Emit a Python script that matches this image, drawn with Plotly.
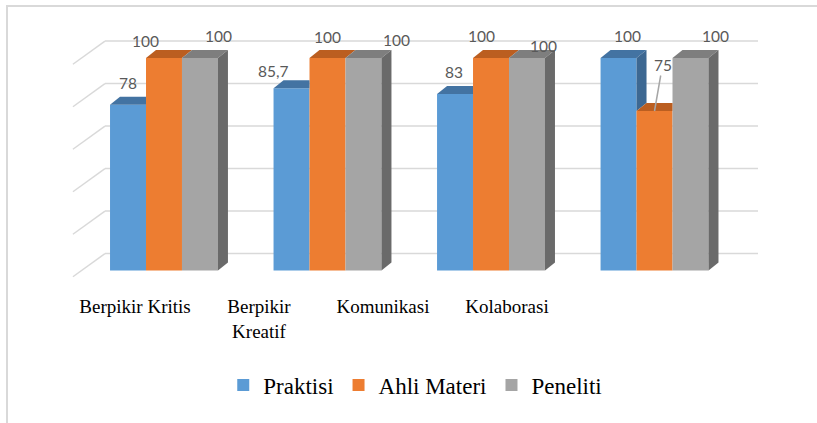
import plotly.graph_objects as go

# ---------------- data ----------------
categories = ["Berpikir Kritis", "Berpikir<br>Kreatif", "Komunikasi", "Kolaborasi"]
series_names = ["Praktisi", "Ahli Materi", "Peneliti"]
praktisi = [78, 85.7, 83, 100]
ahli_materi = [100, 100, 100, 75]
peneliti = [100, 100, 100, 100]
grid_values = [0, 20, 40, 60, 80, 100]

# ---------------- style ----------------
front_colors = ["#5B9BD5", "#ED7D31", "#A5A5A5"]
top_colors = ["#4373A2", "#BB5E20", "#7E7E7E"]
side_colors = ["#3D6892", "#A9541C", "#6A6A6A"]
grid_color = "#D9D9D9"
label_color = "#595959"
SERIF = "Liberation Serif"

L, R, T, B = 60, 32, 26, 142
W, H = 817, 423
X_RANGE = [-0.636, 3.798]
Y_RANGE = [-5, 115]
PXX = (W - L - R) / (X_RANGE[1] - X_RANGE[0])
PXY = (H - T - B) / (Y_RANGE[1] - Y_RANGE[0])

BAR_W = 0.22
DX = 10 / PXX          # depth offset of bars (x units)
DY = 8 / PXY           # depth offset of bars (value units)
WALL_BACK_X, WALL_FRONT_X, GRID_END_X = -0.361, -0.557, 3.633
WALL_BACK_DY, WALL_FRONT_DY = 7.9, -3.0

# label offsets (px): (xshift, yshift)
label_offsets = [
    [(-0.5, 22), (-18, 17), (-1, 21.6), (9, 21.6)],
    [(-18.5, 16.6), (0, 21), (-10, 21.6), (8, 46)],
    [(18.5, 21.6), (33, 18.3), (17, 12.3), (25.5, 21.6)],
]

values = [praktisi, ahli_materi, peneliti]
cat_x = list(range(len(categories)))


def fmt(v):
    return str(int(v)) if float(v).is_integer() else str(v).replace(".", ",")


fig = go.Figure()

# front faces
for j, (name, vals) in enumerate(zip(series_names, values)):
    fig.add_trace(go.Bar(
        x=cat_x, y=vals, name=name,
        width=BAR_W, offset=-1.5 * BAR_W + j * BAR_W,
        marker=dict(color=front_colors[j], line=dict(width=0)),
        hoverinfo="skip",
    ))

# tops and sides
for i in cat_x:
    for j in range(3):
        v = values[j][i]
        x0 = i - 1.5 * BAR_W + j * BAR_W
        x1 = x0 + BAR_W
        v_next = values[j + 1][i] if j < 2 else 0
        if v_next > v:
            tx = [x0, x1, x1, x0 + DX, x0]
        else:
            tx = [x0, x1, x1 + DX, x0 + DX, x0]
        ty = [v, v, v + DY, v + DY, v]
        fig.add_trace(go.Scatter(x=tx, y=ty, fill="toself", mode="lines",
                                 line=dict(width=0), fillcolor=top_colors[j],
                                 showlegend=False, hoverinfo="skip"))
        if v_next < v:
            sx = [x1, x1, x1 + DX, x1 + DX, x1]
            sy = [v_next, v, v + DY, v_next + DY, v_next]
            fig.add_trace(go.Scatter(x=sx, y=sy, fill="toself", mode="lines",
                                     line=dict(width=0), fillcolor=side_colors[j],
                                     showlegend=False, hoverinfo="skip"))

# invisible trace to carry the category axis
fig.add_trace(go.Scatter(x=cat_x, y=[0] * len(cat_x), xaxis="x2", mode="markers",
                         marker=dict(opacity=0), showlegend=False, hoverinfo="skip"))

# gridlines on back wall + left wall diagonals
shapes = []
for g in grid_values:
    shapes.append(dict(type="line", xref="x", yref="y", layer="below",
                       x0=WALL_BACK_X, x1=GRID_END_X, y0=g + WALL_BACK_DY, y1=g + WALL_BACK_DY,
                       line=dict(color=grid_color, width=1.5)))
    shapes.append(dict(type="line", xref="x", yref="y", layer="below",
                       x0=WALL_FRONT_X, x1=WALL_BACK_X, y0=g + WALL_FRONT_DY, y1=g + WALL_BACK_DY,
                       line=dict(color=grid_color, width=1.5)))

# outer frame (cropped)
ph, pw = H - T - B, W - L - R
shapes.append(dict(type="rect", xref="paper", yref="paper", layer="below",
                   x0=(7 - L) / pw, x1=(840 - L) / pw,
                   y0=(H - B - 450) / ph, y1=(H - B - 6) / ph,
                   line=dict(color="#D9D9D9", width=2), fillcolor="rgba(0,0,0,0)"))

# data labels
annotations = []
for j in range(3):
    for i in cat_x:
        v = values[j][i]
        xc = i - 1.5 * BAR_W + j * BAR_W + BAR_W / 2
        xs, ys = label_offsets[j][i]
        if j == 1 and i == 3:
            annotations.append(dict(x=xc, y=v, xref="x", yref="y", text=fmt(v),
                                    showarrow=True, arrowhead=0, arrowwidth=1.5,
                                    arrowcolor="#A6A6A6", ax=xs, ay=-ys, standoff=0,
                                    font=dict(family="Lato", size=15.5, color=label_color)))
        else:
            annotations.append(dict(x=xc, y=v, xref="x", yref="y", text=fmt(v),
                                    showarrow=False, xshift=xs, yshift=ys,
                                    xanchor="center", yanchor="middle",
                                    font=dict(family="Lato", size=15.5, color=label_color)))

fig.update_layout(
    width=W, height=H,
    margin=dict(l=L, r=R, t=T, b=B, autoexpand=False),
    paper_bgcolor="white", plot_bgcolor="white",
    font=dict(family=SERIF, color="#000000"),
    barmode="overlay",
    showlegend=True,
    legend=dict(orientation="h", x=0.49, xanchor="center", y=(H - B - 385) / ph, yanchor="middle",
                font=dict(family=SERIF, size=23, color="#000000"),
                bgcolor="rgba(0,0,0,0)"),
    xaxis=dict(range=X_RANGE, visible=False),
    xaxis2=dict(range=[-0.605, 5.242], overlaying="x", anchor="y", side="bottom",
                tickmode="array", tickvals=cat_x, ticktext=categories,
                showgrid=False, zeroline=False, showline=False, ticks="",
                ticklabelstandoff=12,
                tickfont=dict(family=SERIF, size=19, color="#000000")),
    yaxis=dict(range=Y_RANGE, visible=False),
    shapes=shapes,
    annotations=annotations,
)

fig.write_html("out.html", config={"displayModeBar": False},
               post_script="document.body.style.margin='0';")
